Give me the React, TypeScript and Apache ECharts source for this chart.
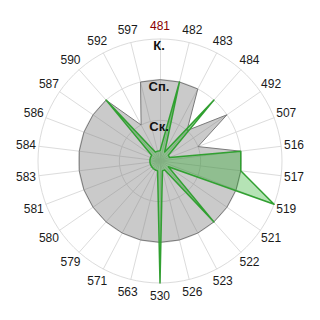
import React, { useEffect, useRef } from 'react';
import * as echarts from 'echarts';

// Station codes, listed clockwise starting from the top.
const categories = [
  '481', '482', '483', '484', '492', '507', '516', '517', '519', '521', '522', '523', '526',
  '530', '563', '571', '579', '580', '581', '583', '584', '586', '587', '590', '592', '597',
];
const highlightedCode = '481';

// Level scale: 1 = Ск., 2 = Сп., 3 = К.
const levelLabels = ['', 'Ск.', 'Сп.', 'К.'];
const levelMax = 3;

const baseLevels = [2, 2, 2, 1, 2, 1, 2, 2, 2, 2, 2, 2, 2, 2, 2, 2, 2, 2, 2, 2, 2, 2, 2, 2, 1, 2];
const markedLevels = [
  0.25, 2, 0.25, 2, 0.25, 0.25, 2, 2, 3, 0.25, 2, 0.25, 0.25,
  3, 0.25, 0.25, 0.25, 0.25, 0.25, 0.25, 0.25, 0.25, 0.25, 2, 0.25, 0.25,
];

// ECharts lays radar indicators out counter-clockwise; reverse the tail so the
// codes run clockwise from the top.
const order = [0, ...categories.map((_, i) => i).slice(1).reverse()];
const ordered = <T,>(arr: T[]) => order.map((i) => arr[i]);

const FONT = '"Liberation Sans", Arial, sans-serif';
const CX = 160;
const CY = 161;
const RADIUS = 122;
const NAME_RADIUS = 135;

export default function App() {
  const ref = useRef<HTMLDivElement>(null);

  useEffect(() => {
    if (!ref.current) return;
    const chart = echarts.init(ref.current, undefined, { renderer: 'svg' });
    const center = [CX, CY];

    // Code names centred on their spokes, just outside the outer ring.
    const step = (Math.PI * 2) / categories.length;
    const nameTexts = categories.map((c, i) => ({
      type: 'text',
      silent: true,
      x: CX + NAME_RADIUS * Math.sin(i * step),
      y: CY - NAME_RADIUS * Math.cos(i * step),
      style: {
        text: c,
        fontSize: 12,
        fontFamily: FONT,
        fill: c === highlightedCode ? '#8b0000' : '#1a1a1a',
        textAlign: 'center',
        textVerticalAlign: 'middle',
      },
    }));

    chart.setOption({
      animation: false,
      backgroundColor: '#ffffff',
      graphic: nameTexts,
      radar: [
        {
          center,
          radius: RADIUS,
          startAngle: 90,
          shape: 'circle',
          splitNumber: 3,
          z: 0,
          indicator: ordered(categories).map((c) => ({ name: c, min: 0, max: levelMax })),
          axisName: { show: false },
          splitLine: { lineStyle: { color: '#dcdcdc', width: 1 } },
          splitArea: { show: false },
          axisLine: { lineStyle: { color: '#dcdcdc', width: 1 } },
          axisTick: { show: false },
          axisLabel: { show: false },
        },
        {
          // Level captions along the upward axis, drawn above the areas.
          center,
          radius: RADIUS,
          startAngle: 90,
          shape: 'circle',
          splitNumber: 3,
          z: 5,
          indicator: [{ name: '', min: 0, max: levelMax }],
          axisName: { show: false },
          splitLine: { show: false },
          splitArea: { show: false },
          axisLine: { show: false },
          axisTick: { show: false },
          axisLabel: {
            show: true,
            margin: 1,
            align: 'center',
            verticalAlign: 'top',
            rotate: 0,
            fontSize: 13,
            fontWeight: 'bold',
            fontFamily: FONT,
            color: '#111111',
            formatter: (v: number) => levelLabels[Math.round(v)] ?? '',
          },
        },
      ],
      series: [
        {
          type: 'radar',
          radarIndex: 0,
          silent: true,
          symbol: 'none',
          z: 2,
          lineStyle: { color: '#7c7c7c', width: 1 },
          areaStyle: { color: 'rgba(118,118,118,0.55)' },
          data: [{ value: ordered(baseLevels), name: 'base' }],
        },
        {
          type: 'radar',
          radarIndex: 0,
          silent: true,
          symbol: 'none',
          z: 3,
          lineStyle: { color: '#38a038', width: 1.5 },
          areaStyle: { color: 'rgba(20,165,20,0.45)' },
          data: [{ value: ordered(markedLevels), name: 'marked' }],
        },
      ],
    });

    return () => chart.dispose();
  }, []);

  return (
    <div
      ref={ref}
      style={{ position: 'fixed', left: 0, top: 0, width: 320, height: 320, background: '#fff' }}
    />
  );
}
